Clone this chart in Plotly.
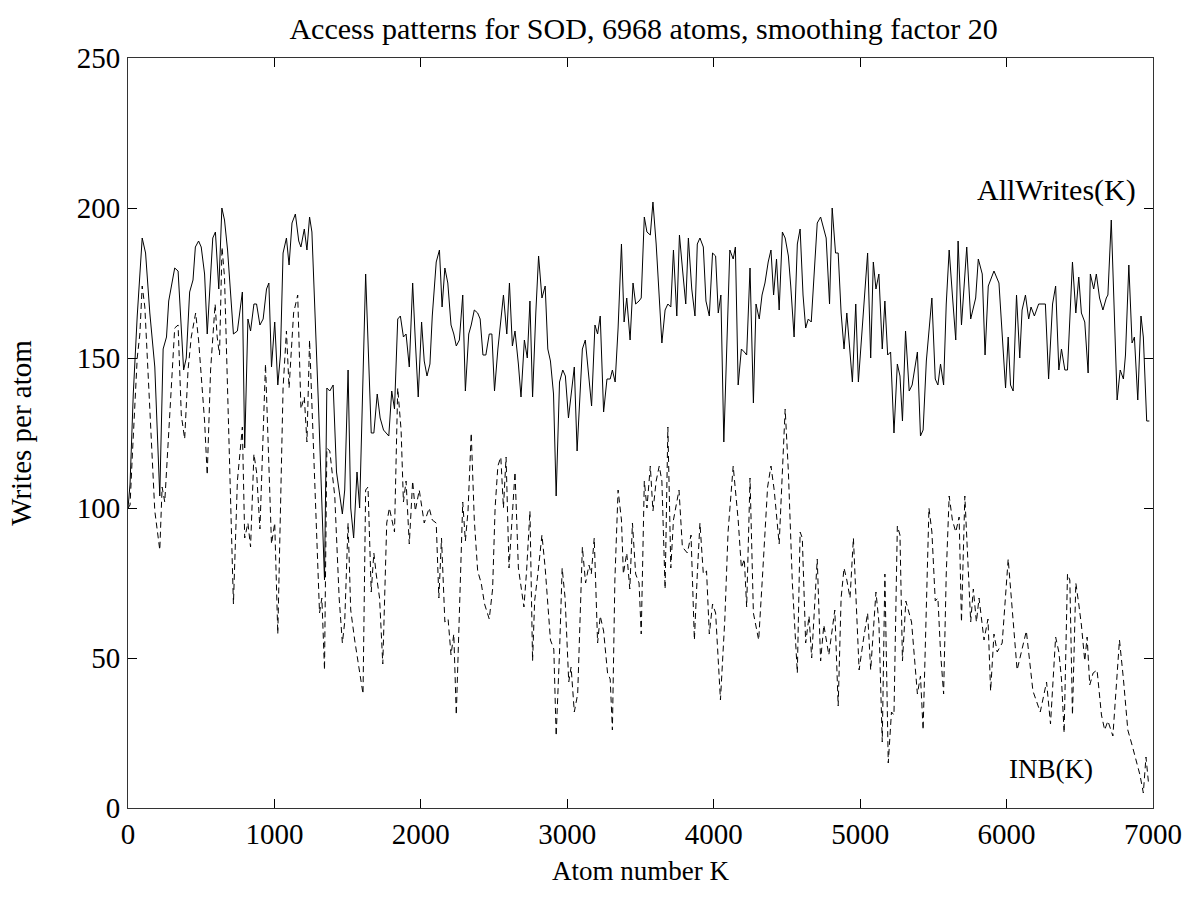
import plotly.graph_objects as go

allwrites_k = [0, 14, 36, 63, 97, 120, 149, 183, 217, 240, 263, 278, 319, 342, 380, 398, 421, 444, 460, 482,
               500, 523, 541, 559, 579, 597, 620, 641, 659, 680, 720, 747, 781, 797, 819, 837, 860, 878, 901, 923,
               946, 962, 980, 1002, 1023, 1041, 1059, 1082, 1100, 1120, 1143, 1166, 1181, 1204, 1222, 1240, 1256, 1301, 1342, 1358,
               1378, 1401, 1424, 1464, 1480, 1503, 1521, 1541, 1564, 1582, 1623, 1661, 1679, 1702, 1722, 1745, 1781, 1801, 1820, 1842,
               1860, 1881, 1899, 1921, 1944, 1962, 1982, 2005, 2023, 2042, 2062, 2078, 2105, 2127, 2145, 2164, 2184, 2206, 2225, 2242,
               2263, 2286, 2304, 2327, 2344, 2365, 2388, 2405, 2424, 2444, 2467, 2485, 2503, 2526, 2546, 2564, 2587, 2605, 2625, 2643,
               2666, 2684, 2707, 2727, 2745, 2763, 2785, 2804, 2827, 2849, 2867, 2885, 2906, 2924, 2947, 2969, 2987, 3008, 3048, 3067,
               3103, 3123, 3166, 3189, 3207, 3225, 3248, 3271, 3293, 3308, 3327, 3347, 3370, 3388, 3406, 3429, 3449, 3467, 3490, 3505,
               3526, 3544, 3567, 3585, 3607, 3646, 3668, 3687, 3707, 3725, 3748, 3766, 3788, 3809, 3827, 3850, 3872, 3888, 3906, 3929,
               3947, 3970, 3992, 4013, 4031, 4049, 4069, 4110, 4133, 4148, 4167, 4189, 4209, 4225, 4248, 4271, 4289, 4311, 4330, 4350,
               4372, 4391, 4409, 4429, 4447, 4469, 4488, 4510, 4526, 4549, 4571, 4590, 4610, 4628, 4646, 4666, 4707, 4730, 4768, 4791,
               4809, 4832, 4850, 4870, 4890, 4909, 4947, 4970, 4988, 5029, 5051, 5072, 5090, 5108, 5128, 5151, 5169, 5188, 5208, 5231,
               5254, 5272, 5289, 5310, 5335, 5355, 5391, 5412, 5430, 5452, 5490, 5513, 5531, 5549, 5570, 5588, 5608, 5630, 5653, 5669,
               5692, 5728, 5755, 5789, 5807, 5834, 5853, 5875, 5914, 5948, 5993, 6011, 6027, 6045, 6068, 6090, 6106, 6129, 6151, 6167,
               6190, 6219, 6242, 6265, 6287, 6314, 6335, 6357, 6375, 6398, 6416, 6450, 6473, 6493, 6511, 6534, 6557, 6572, 6595, 6613,
               6635, 6658, 6681, 6692, 6715, 6755, 6776, 6798, 6812, 6835, 6857, 6873, 6896, 6918, 6934, 6957, 6975]
allwrites_v = [100, 108, 138, 164, 190, 185, 165, 147, 104, 153, 157, 169, 180, 179, 146, 150, 172, 176, 187, 189,
               187, 178, 158, 175, 190, 192, 173, 200, 196, 186, 158, 159, 172, 120, 163, 159, 168, 168, 161, 163,
               173, 175, 147, 162, 141, 151, 185, 190, 181, 195, 198, 189, 187, 193, 186, 197, 192, 134, 76, 140,
               139, 141, 112, 98, 106, 146, 100, 90, 112, 100, 178, 125, 125, 138, 130, 126, 124, 139, 133, 163,
               164, 157, 158, 147, 175, 156, 137, 162, 149, 144, 148, 164, 182, 186, 167, 180, 175, 161, 158, 154,
               156, 171, 139, 158, 161, 166, 165, 163, 151, 151, 158, 158, 139, 153, 162, 171, 158, 175, 154, 159,
               148, 137, 156, 150, 169, 137, 165, 184, 170, 174, 153, 149, 138, 104, 142, 146, 144, 130, 147, 119,
               153, 156, 134, 161, 158, 164, 132, 143, 143, 146, 142, 160, 188, 162, 170, 156, 175, 168, 169, 170,
               197, 192, 191, 202, 188, 155, 166, 168, 167, 186, 164, 191, 179, 168, 190, 173, 164, 188, 190, 187,
               169, 164, 185, 184, 165, 171, 122, 186, 183, 187, 141, 153, 152, 151, 180, 135, 168, 163, 171, 175,
               182, 186, 171, 183, 166, 192, 190, 184, 174, 157, 188, 193, 171, 160, 163, 162, 195, 197, 190, 168,
               200, 185, 185, 165, 153, 165, 142, 168, 142, 168, 185, 150, 182, 173, 178, 153, 169, 151, 152, 125,
               148, 144, 129, 159, 139, 141, 152, 124, 126, 149, 170, 143, 141, 148, 141, 168, 186, 171, 156, 189,
               161, 187, 163, 170, 183, 178, 151, 174, 179, 175, 140, 157, 141, 139, 171, 150, 166, 171, 163, 167,
               164, 168, 168, 168, 143, 168, 174, 146, 153, 146, 146, 182, 165, 177, 165, 162, 145, 178, 173, 178,
               170, 166, 170, 171, 196, 136, 146, 143, 151, 181, 155, 157, 136, 164, 157, 129, 129]

inb_k = [0, 14, 29, 63, 81, 97, 115, 149, 183, 217, 233, 251, 285, 319, 342, 364, 387, 410, 432, 462,
         482, 523, 541, 564, 595, 609, 625, 642, 659, 679, 700, 720, 747, 781, 797, 819, 837, 860, 878, 901,
         939, 980, 1002, 1023, 1059, 1082, 1100, 1131, 1159, 1181, 1204, 1222, 1240, 1308, 1324, 1342, 1358, 1378, 1412, 1442,
         1464, 1480, 1503, 1521, 1548, 1582, 1605, 1623, 1639, 1661, 1679, 1695, 1718, 1740, 1767, 1785, 1820, 1842, 1865, 1881,
         1899, 1921, 1944, 1962, 1989, 2023, 2057, 2078, 2105, 2123, 2141, 2164, 2186, 2206, 2225, 2242, 2286, 2304, 2322, 2344,
         2365, 2388, 2412, 2435, 2467, 2490, 2507, 2526, 2546, 2564, 2582, 2602, 2643, 2666, 2704, 2722, 2745, 2763, 2777, 2799,
         2827, 2849, 2885, 2908, 2924, 2947, 2965, 2985, 3010, 3026, 3048, 3071, 3103, 3125, 3148, 3164, 3184, 3207, 3225, 3248,
         3275, 3293, 3308, 3325, 3347, 3370, 3383, 3406, 3427, 3445, 3467, 3490, 3505, 3526, 3544, 3567, 3585, 3607, 3628, 3646,
         3668, 3687, 3707, 3725, 3763, 3786, 3820, 3845, 3868, 3888, 3906, 3929, 3951, 3970, 3992, 4013, 4046, 4076, 4098, 4133,
         4167, 4189, 4209, 4225, 4248, 4271, 4307, 4334, 4368, 4391, 4413, 4447, 4469, 4488, 4510, 4537, 4571, 4590, 4605, 4628,
         4651, 4669, 4707, 4730, 4752, 4786, 4827, 4850, 4870, 4890, 4909, 4931, 4954, 4993, 5022, 5051, 5072, 5108, 5128, 5151,
         5169, 5192, 5214, 5231, 5254, 5272, 5289, 5312, 5351, 5391, 5412, 5430, 5470, 5490, 5513, 5531, 5549, 5570, 5588, 5608,
         5630, 5653, 5676, 5692, 5715, 5737, 5755, 5773, 5794, 5812, 5846, 5873, 5891, 5914, 5936, 5970, 6011, 6072, 6099, 6135,
         6180, 6230, 6273, 6300, 6335, 6357, 6375, 6393, 6416, 6432, 6450, 6473, 6493, 6511, 6534, 6550, 6568, 6591, 6618, 6648,
         6670, 6692, 6726, 6771, 6798, 6828, 6857, 6880, 6911, 6934, 6952, 6970]
inb_v = [100, 101, 117, 150, 158, 174, 167, 134, 99, 86, 107, 102, 131, 160, 161, 131, 123, 146, 157, 165,
         156, 129, 111, 146, 168, 157, 151, 187, 177, 140, 105, 68, 109, 127, 90, 95, 87, 118, 112, 93,
         148, 88, 95, 58, 140, 159, 140, 165, 171, 133, 137, 122, 156, 65, 70, 46, 120, 119, 104, 70,
         55, 62, 95, 66, 56, 45, 38, 106, 107, 72, 85, 78, 70, 48, 95, 100, 92, 140, 126, 102,
         109, 88, 109, 99, 106, 95, 100, 96, 95, 70, 90, 62, 63, 51, 58, 31, 102, 89, 99, 125,
         96, 79, 75, 68, 63, 73, 100, 114, 117, 100, 117, 80, 112, 80, 67, 79, 99, 49, 69, 78,
         91, 80, 56, 53, 24, 52, 80, 70, 42, 47, 32, 38, 87, 75, 81, 78, 90, 55, 64, 59,
         45, 43, 26, 76, 106, 96, 78, 85, 73, 95, 78, 75, 58, 109, 100, 114, 99, 109, 114, 109,
         73, 127, 80, 96, 106, 87, 85, 91, 56, 78, 95, 78, 79, 58, 68, 65, 36, 63, 92, 114,
         96, 80, 83, 67, 110, 65, 56, 78, 107, 114, 106, 88, 110, 133, 112, 75, 45, 92, 90, 55,
         64, 50, 83, 49, 61, 51, 66, 34, 70, 80, 76, 70, 90, 46, 56, 65, 46, 72, 62, 22,
         78, 15, 32, 31, 94, 91, 49, 69, 62, 38, 44, 26, 100, 92, 69, 70, 52, 38, 78, 104,
         96, 92, 97, 62, 104, 83, 62, 73, 62, 70, 56, 63, 39, 58, 52, 55, 83, 46, 52, 59,
         39, 32, 42, 28, 57, 52, 43, 25, 78, 76, 31, 75, 68, 61, 49, 57, 41, 45, 46, 31,
         26, 29, 24, 56, 43, 26, 21, 17, 11, 5, 17, 8]

x_ticks = [0, 1000, 2000, 3000, 4000, 5000, 6000, 7000]
y_ticks = [0, 50, 100, 150, 200, 250]

FONT = "Liberation Serif, Times New Roman, serif"
FS = 29

fig = go.Figure()
fig.add_trace(go.Scatter(x=allwrites_k, y=allwrites_v, mode="lines",
                         line=dict(color="black", width=1), name="AllWrites(K)"))
fig.add_trace(go.Scatter(x=inb_k, y=inb_v, mode="lines",
                         line=dict(color="black", width=1, dash="6px,4px"), name="INB(K)"))

fig.add_annotation(x=5785, y=206, text="AllWrites(K)", showarrow=False, xanchor="left", yanchor="middle",
                   font=dict(family=FONT, size=30, color="black"))
fig.add_annotation(x=6002, y=13, text="INB(K)", showarrow=False, xanchor="left", yanchor="middle",
                   font=dict(family=FONT, size=27, color="black"))

axis_common = dict(showline=True, linecolor="#333333", linewidth=1, mirror="ticks", ticks="inside",
                   ticklen=9, tickcolor="black", tickwidth=1, showgrid=False, zeroline=False,
                   tickfont=dict(family=FONT, size=FS, color="black"))

fig.update_layout(
    width=1194, height=907,
    margin=dict(l=128, r=35, t=58, b=99),
    paper_bgcolor="white", plot_bgcolor="white",
    showlegend=False,
    title=dict(text="Access patterns for SOD, 6968 atoms, smoothing factor 20", x=0.539, xanchor="center",
               y=0.969, yanchor="middle", font=dict(family=FONT, size=30, color="black")),
    xaxis=dict(range=[0, 7000], tickvals=x_ticks, ticktext=[str(t) for t in x_ticks],
               title=dict(text="Atom number K", standoff=12, font=dict(family=FONT, size=27, color="black")),
               ticklabelstandoff=0, **axis_common),
    yaxis=dict(range=[0, 250], tickvals=y_ticks, ticktext=[str(t) for t in y_ticks],
               title=dict(text="Writes per atom", standoff=36, font=dict(family=FONT, size=FS, color="black")),
               ticklabelstandoff=1, **axis_common),
)

fig.write_html("out.html")
